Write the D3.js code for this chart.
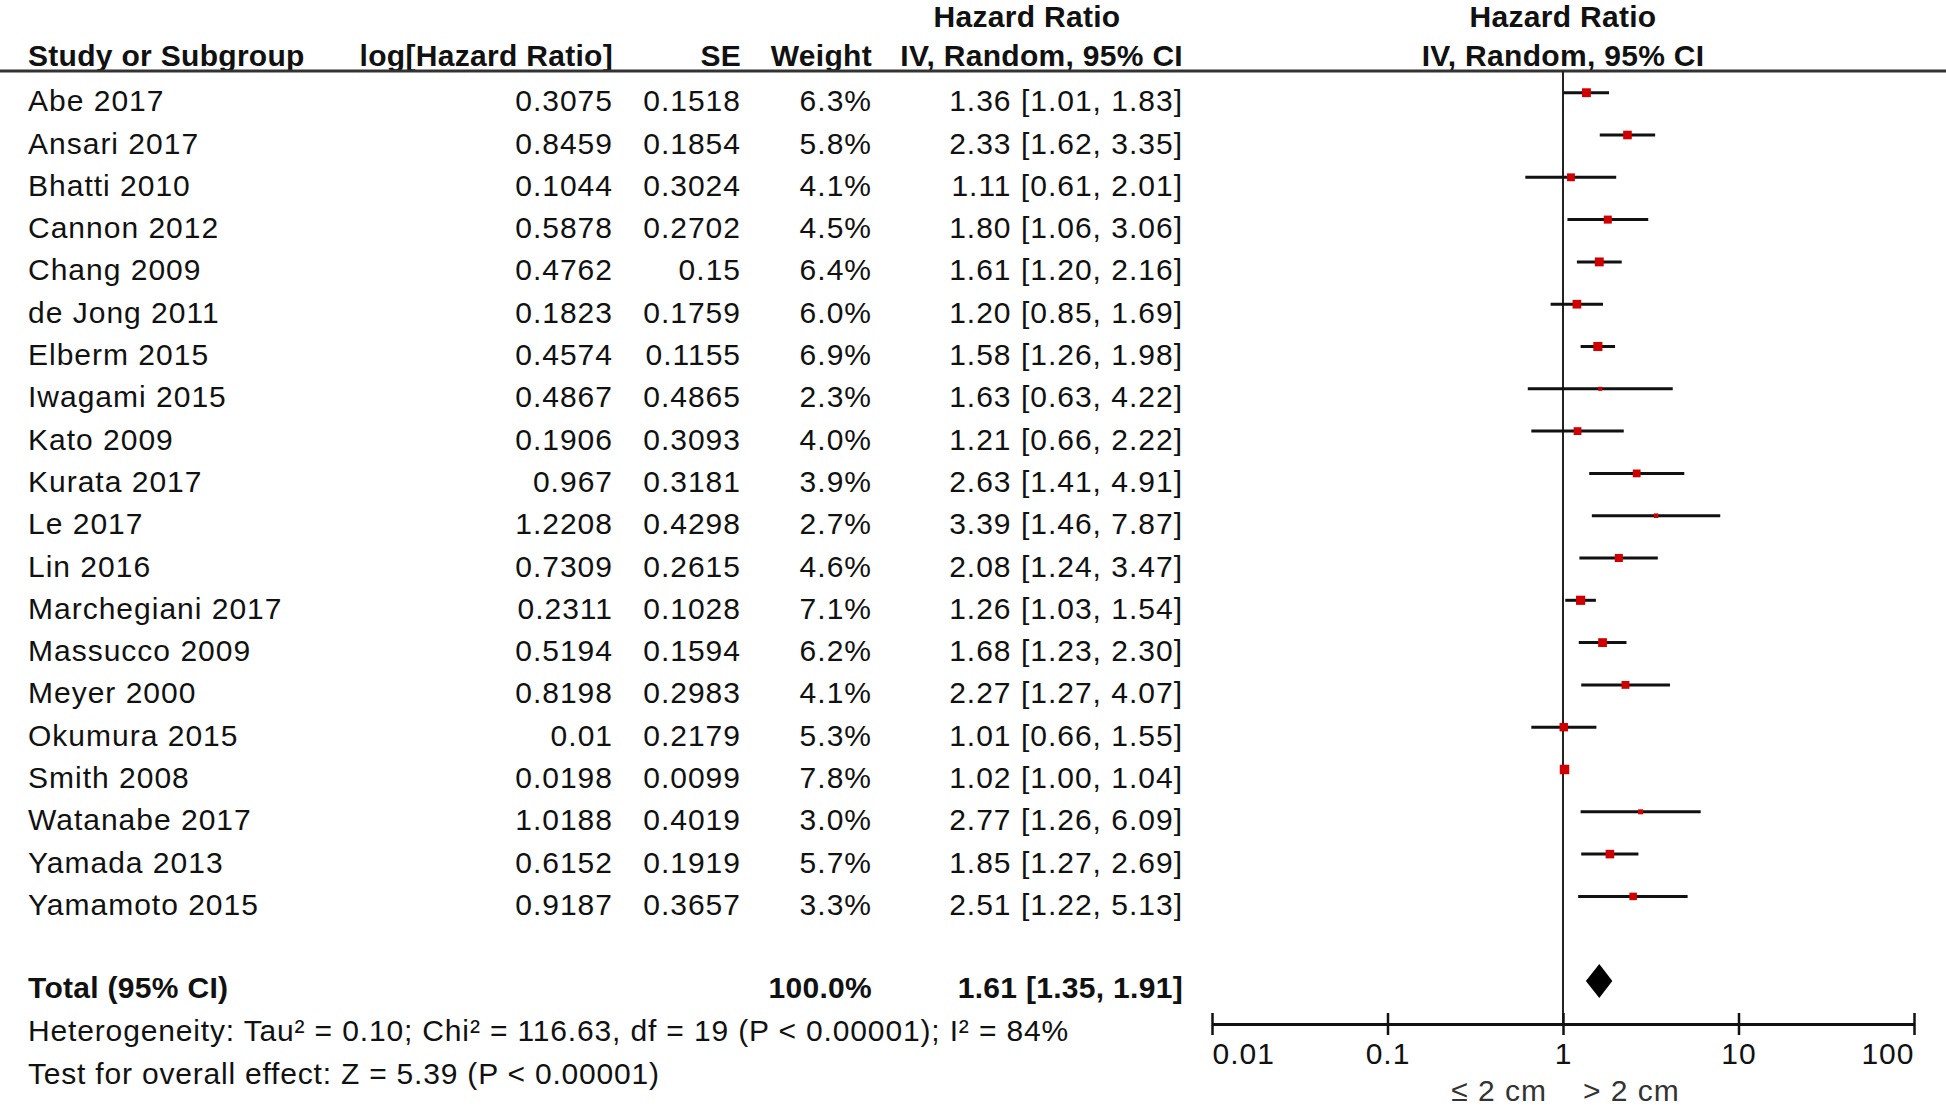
<!DOCTYPE html>
<html>
<head>
<meta charset="utf-8">
<script src="https://cdn.jsdelivr.net/npm/d3@7"></script>
<style>
  html, body { margin: 0; padding: 0; background: #fff; }
  svg text { font-family: "Liberation Sans", Arial, sans-serif; fill: #111; }
</style>
</head>
<body>
<svg id="chart" width="1946" height="1107"></svg>
<script>
// ---------------- DATA ----------------
const studies = ["Abe 2017","Ansari 2017","Bhatti 2010","Cannon 2012","Chang 2009","de Jong 2011","Elberm 2015","Iwagami 2015","Kato 2009","Kurata 2017","Le 2017","Lin 2016","Marchegiani 2017","Massucco 2009","Meyer 2000","Okumura 2015","Smith 2008","Watanabe 2017","Yamada 2013","Yamamoto 2015"];
const logHR = ["0.3075","0.8459","0.1044","0.5878","0.4762","0.1823","0.4574","0.4867","0.1906","0.967","1.2208","0.7309","0.2311","0.5194","0.8198","0.01","0.0198","1.0188","0.6152","0.9187"];
const seVals = ["0.1518","0.1854","0.3024","0.2702","0.15","0.1759","0.1155","0.4865","0.3093","0.3181","0.4298","0.2615","0.1028","0.1594","0.2983","0.2179","0.0099","0.4019","0.1919","0.3657"];
const weights = [6.3,5.8,4.1,4.5,6.4,6.0,6.9,2.3,4.0,3.9,2.7,4.6,7.1,6.2,4.1,5.3,7.8,3.0,5.7,3.3];
const hr = [1.36,2.33,1.11,1.80,1.61,1.20,1.58,1.63,1.21,2.63,3.39,2.08,1.26,1.68,2.27,1.01,1.02,2.77,1.85,2.51];
const lo = [1.01,1.62,0.61,1.06,1.20,0.85,1.26,0.63,0.66,1.41,1.46,1.24,1.03,1.23,1.27,0.66,1.00,1.26,1.27,1.22];
const hi = [1.83,3.35,2.01,3.06,2.16,1.69,1.98,4.22,2.22,4.91,7.87,3.47,1.54,2.30,4.07,1.55,1.04,6.09,2.69,5.13];
const total = { hr: 1.61, lo: 1.35, hi: 1.91, weight: "100.0%" };
const heterogeneityText = "Heterogeneity: Tau² = 0.10; Chi² = 116.63, df = 19 (P < 0.00001); I² = 84%";
const overallText = "Test for overall effect: Z = 5.39 (P < 0.00001)";
const tickValues = [0.01, 0.1, 1, 10, 100];
const tickLabels = ["0.01", "0.1", "1", "10", "100"];
const favoursLeft = "≤ 2 cm";
const favoursRight = "> 2 cm";

// ---------------- LAYOUT ----------------
const svg = d3.select("#chart");
const FS = 30;
const LS = "1px";
const fmt2 = d3.format(".2f");
const ciText = (h, l, u) => `${fmt2(h)} [${fmt2(l)}, ${fmt2(u)}]`;

const x = d3.scaleLog().domain([0.01, 100]).range([1212, 1914]);
const yMark = d3.scaleLinear().domain([0, studies.length - 1]).range([92.7, 896.4]);
const yText = i => yMark(i) + 18.5; // text baseline
const sizeScale = d3.scaleLinear().domain([2.3, 3.0, 3.3, 7.8]).range([4, 5, 7.5, 9.5]).clamp(true);

const colX = { name: 28, log: 613, se: 741, weight: 872, ci: 1183 };
const axisY = 1024;
const headerLineY = 71;

// Headers
const hdr = svg.append("g").attr("font-weight", "bold").attr("font-size", FS).attr("letter-spacing", "0.3px");
hdr.append("text").attr("x", 1027).attr("y", 27).attr("text-anchor", "middle").text("Hazard Ratio");
hdr.append("text").attr("x", x(1)).attr("y", 27).attr("text-anchor", "middle").text("Hazard Ratio");
hdr.append("text").attr("x", colX.name).attr("y", 66).text("Study or Subgroup");
hdr.append("text").attr("x", colX.log).attr("y", 66).attr("text-anchor", "end").text("log[Hazard Ratio]");
hdr.append("text").attr("x", colX.se).attr("y", 66).attr("text-anchor", "end").text("SE");
hdr.append("text").attr("x", colX.weight).attr("y", 66).attr("text-anchor", "end").text("Weight");
hdr.append("text").attr("x", colX.ci).attr("y", 66).attr("text-anchor", "end").text("IV, Random, 95% CI");
hdr.append("text").attr("x", x(1)).attr("y", 66).attr("text-anchor", "middle").text("IV, Random, 95% CI");

svg.append("line").attr("x1", 0).attr("x2", 1946).attr("y1", headerLineY).attr("y2", headerLineY)
  .attr("stroke", "#333").attr("stroke-width", 3);

// Rows text
const rows = svg.append("g").attr("font-size", FS).attr("letter-spacing", LS);
studies.forEach((s, i) => {
  const g = rows.append("g");
  g.append("text").attr("x", colX.name).attr("y", yText(i)).text(s);
  g.append("text").attr("x", colX.log).attr("y", yText(i)).attr("text-anchor", "end").text(logHR[i]);
  g.append("text").attr("x", colX.se).attr("y", yText(i)).attr("text-anchor", "end").text(seVals[i]);
  g.append("text").attr("x", colX.weight).attr("y", yText(i)).attr("text-anchor", "end").text(weights[i].toFixed(1) + "%");
  g.append("text").attr("x", colX.ci).attr("y", yText(i)).attr("text-anchor", "end").text(ciText(hr[i], lo[i], hi[i]));
});

// Total row
const totalCenter = 981;
const totalBase = 998;
const tg = svg.append("g").attr("font-size", FS).attr("font-weight", "bold").attr("letter-spacing", "0.3px");
tg.append("text").attr("x", colX.name).attr("y", totalBase).text("Total (95% CI)");
tg.append("text").attr("x", colX.weight).attr("y", totalBase).attr("text-anchor", "end").text(total.weight);
tg.append("text").attr("x", colX.ci).attr("y", totalBase).attr("text-anchor", "end").text(ciText(total.hr, total.lo, total.hi));

svg.append("text").attr("font-size", FS).attr("letter-spacing", "0.85px").attr("x", colX.name).attr("y", 1041).text(heterogeneityText);
svg.append("text").attr("font-size", FS).attr("letter-spacing", "0.8px").attr("x", colX.name).attr("y", 1084).text(overallText);

// Null line
svg.append("line").attr("x1", x(1)).attr("x2", x(1)).attr("y1", headerLineY).attr("y2", axisY)
  .attr("stroke", "#222").attr("stroke-width", 2);

// Whiskers + markers
const plot = svg.append("g");
plot.selectAll("line.ci").data(studies).join("line").attr("class", "ci")
  .attr("x1", (d, i) => x(lo[i])).attr("x2", (d, i) => x(hi[i]))
  .attr("y1", (d, i) => yMark(i)).attr("y2", (d, i) => yMark(i))
  .attr("stroke", "#111").attr("stroke-width", 3);
plot.selectAll("rect.mk").data(studies).join("rect").attr("class", "mk")
  .attr("x", (d, i) => x(hr[i]) - sizeScale(weights[i]) / 2)
  .attr("y", (d, i) => yMark(i) - sizeScale(weights[i]) / 2)
  .attr("width", (d, i) => sizeScale(weights[i]))
  .attr("height", (d, i) => sizeScale(weights[i]))
  .attr("fill", "#d00000");

// Diamond
const dh = 17;
svg.append("path")
  .attr("d", `M${x(total.lo)},${totalCenter} L${x(total.hr)},${totalCenter - dh} L${x(total.hi)},${totalCenter} L${x(total.hr)},${totalCenter + dh} Z`)
  .attr("fill", "#000");

// Axis
const axis = d3.axisBottom(x).tickValues(tickValues).tickFormat((d, i) => tickLabels[i])
  .tickSizeInner(11).tickSizeOuter(0);
const ag = svg.append("g").attr("transform", `translate(0,${axisY})`).call(axis);
ag.select(".domain").attr("stroke", "#111").attr("stroke-width", 3);
ag.selectAll(".tick line").attr("y1", -11).attr("y2", 11).attr("stroke", "#111").attr("stroke-width", 2.5);
ag.selectAll(".tick text")
  .attr("font-family", "Liberation Sans, Arial, sans-serif")
  .attr("font-size", FS).attr("fill", "#111").attr("letter-spacing", LS)
  .attr("y", 40).attr("dy", 0)
  .attr("text-anchor", (d, i) => i === 0 ? "start" : (i === tickValues.length - 1 ? "end" : "middle"));

// Favours labels
svg.append("text").attr("font-size", FS).attr("letter-spacing", LS).attr("x", x(1) - 16).attr("y", 1101)
  .attr("text-anchor", "end").style("fill", "#333").text(favoursLeft);
svg.append("text").attr("font-size", FS).attr("letter-spacing", LS).attr("x", x(1) + 20).attr("y", 1101)
  .attr("text-anchor", "start").style("fill", "#333").text(favoursRight);
</script>
</body>
</html>
